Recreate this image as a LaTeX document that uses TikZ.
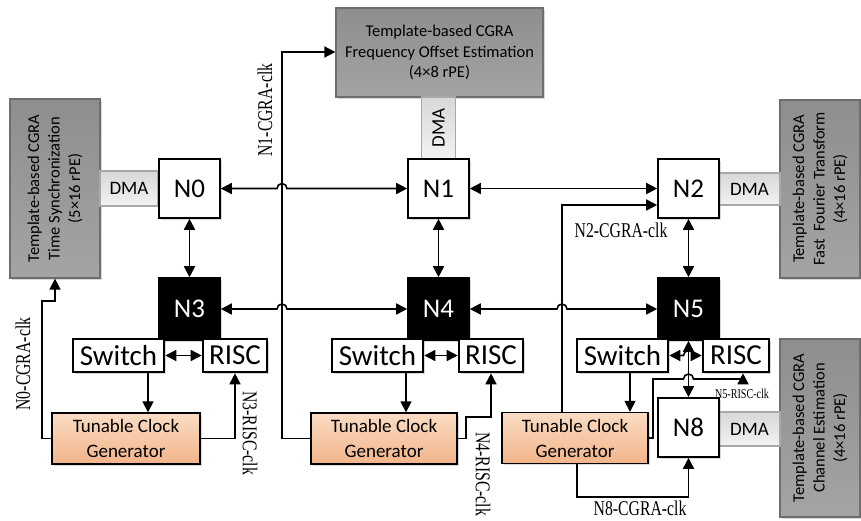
\documentclass[tikz,border=0pt]{standalone}
\usepackage{fontspec}
\usepackage{graphicx}
\setmainfont{Carlito}
\newfontfamily\clkfont{Liberation Serif}
\usetikzlibrary{positioning,arrows.meta,shadows,calc}
\definecolor{cgragreytop}{HTML}{8E8E8E}
\definecolor{cgragreybot}{HTML}{A4A4A4}
\definecolor{cgraedge}{HTML}{6E6E6E}
\definecolor{dmatop}{HTML}{D8D8D8}
\definecolor{dmabot}{HTML}{F2F2F2}
\definecolor{dmaedge}{HTML}{A8A8A8}
\definecolor{tcgtop}{HTML}{FADCC3}
\definecolor{tcgbot}{HTML}{F2B48A}
% condensed serif for the clock signal names
\newcommand{\clkname}[1]{\scalebox{0.75}[1]{#1}}

\begin{document}
\begin{tikzpicture}[x=1pt,y=1pt,
  shd/.style={drop shadow={shadow xshift=1.5pt,shadow yshift=-1.5pt,opacity=0.3}},
  cgra/.style={draw=cgraedge,line width=1.2pt,top color=cgragreytop,bottom color=cgragreybot,inner sep=0pt,shd},
  cgratxt/.style={font=\fontsize{16.5}{20.5}\selectfont,align=center,inner sep=0pt},
  dma/.style={draw=dmaedge,line width=1.2pt,top color=dmatop,bottom color=dmabot,inner sep=0pt},
  dmatxt/.style={font=\fontsize{19}{20}\selectfont,inner sep=0pt},
  noc/.style={draw,line width=1.6pt,fill=white,inner sep=0pt,minimum width=61pt,minimum height=59pt,font=\fontsize{27}{30}\selectfont,shd},
  hub/.style={noc,fill=black,text=white,minimum height=62pt},
  unit/.style={draw,line width=2.6pt,fill=white,inner sep=0pt,minimum height=33pt,font=\fontsize{29}{30}\selectfont,shd},
  tcg/.style={draw,line width=1.4pt,top color=tcgtop,bottom color=tcgbot,align=center,inner sep=0pt,minimum width=146pt,minimum height=51pt,font=\fontsize{19}{25}\selectfont,shd},
  clk/.style={font=\clkfont\fontsize{21}{22}\selectfont,inner sep=0pt},
  clksmall/.style={font=\clkfont\fontsize{13.5}{14}\selectfont,inner sep=0pt},
  wire/.style={line width=1.6pt},
  sgl/.style={wire,-{Triangle[length=11pt,width=11pt]}},
  dbl/.style={wire,{Triangle[length=11pt,width=11pt]}-{Triangle[length=11pt,width=11pt]}}]
\useasboundingbox (0,0) rectangle (861,-520);

% CGRA accelerators
\node[cgra,minimum width=90pt,minimum height=179pt] (tsync) at (55,-188.5) {};
\node[cgratxt,rotate=90] (tsynctxt) at (tsync) {Template-based CGRA\\Time Synchronization\\(5×16 rPE)};
\node[cgra,minimum width=207pt,minimum height=89pt] (foe) at (439.5,-52.5) {};
\node[cgratxt] (foetxt) at (foe) {Template-based CGRA\\Frequency Offset Estimation\\(4×8 rPE)};
\node[cgra,minimum width=80pt,minimum height=178pt] (fft) at (820,-189) {};
\node[cgratxt,rotate=90] (ffttxt) at (fft) {Template-based CGRA\\Fast\ \ Fourier Transform\\(4×16 rPE)};
\node[cgra,minimum width=80pt,minimum height=178pt] (chest) at (820,-428) {};
\node[cgratxt,rotate=90] (chesttxt) at (chest) {Template-based CGRA\\Channel Estimation\\(4×16 rPE)};

% DMA bridges
\node[dma,minimum width=58pt,minimum height=35pt] (dma0) at (129,-188.5) {};
\node[dmatxt] (dma0txt) at (dma0) {DMA};
\node[dma,minimum width=34pt,minimum height=62pt] (dma1) at (438.5,-128) {};
\node[dmatxt,rotate=90] (dma1txt) at (dma1) {DMA};
\node[dma,minimum width=61pt,minimum height=32pt] (dma2) at (749.5,-189) {};
\node[dmatxt] (dma2txt) at (dma2) {DMA};
\node[dma,minimum width=61pt,minimum height=34pt] (dma8) at (749.5,-429) {};
\node[dmatxt] (dma8txt) at (dma8) {DMA};

% NoC routers
\node[noc] (n0) at (189.5,-188.5) {N0};
\node[noc] (n1) at (438.5,-188.5) {N1};
\node[noc] (n2) at (688.5,-188.5) {N2};
\node[hub] (n3) at (189.5,-309) {N3};
\node[hub] (n4) at (438.5,-309) {N4};
\node[hub] (n5) at (688.5,-309) {N5};
\node[noc] (n8) at (688.5,-427.5) {N8};

% switch / RISC pairs
\node[unit,minimum width=91pt] (sw3) at (118.5,-355.5) {Switch};
\node[unit,minimum width=64pt] (risc3) at (235,-355.5) {RISC};
\node[unit,minimum width=91pt] (sw4) at (377.5,-355.5) {Switch};
\node[unit,minimum width=64pt] (risc4) at (491,-355.5) {RISC};
\node[unit,minimum width=91pt] (sw5) at (622.5,-355.5) {Switch};
\node[unit,minimum width=66pt] (risc5) at (736,-355.5) {RISC};

% clock generators
\node[tcg,minimum width=148pt] (tcg3) at (126,-438.5) {Tunable Clock\\Generator};
\node[tcg] (tcg4) at (384,-438.5) {Tunable Clock\\Generator};
\node[tcg] (tcg5) at (575,-438) {Tunable Clock\\Generator};

% bends of the clock lines
\coordinate (c0) at (42,-301);
\coordinate (c1) at (282,-52);
\coordinate (c2) at (562,-205);
\coordinate (c4) at (466,-417);
\coordinate (c5a) at (653,-379);
\coordinate (c5b) at (743,-379);
\coordinate (c8) at (577,-497);

% mesh links
\draw[dbl] (n0.east) -- ([xshift=-5pt]n0.east -| c1) arc[start angle=180,end angle=0,radius=5pt] -- (n1.west);
\draw[dbl] (n1.east) -- (n2.west);
\draw[dbl] (n3.east) -- ([xshift=-5pt]n3.east -| c1) arc[start angle=180,end angle=0,radius=5pt] -- (n4.west);
\draw[dbl] (n4.east) -- ([xshift=-5pt]n4.east -| c2) arc[start angle=180,end angle=0,radius=5pt] -- (n5.west);
\draw[dbl] (n0.south) -- (n3.north);
\draw[dbl] (n1.south) -- (n4.north);
\draw[dbl] (n2.south) -- (n5.north);
\draw[dbl] (n5.south) -- (n8.north);

% switch <-> RISC, switch -> clock generator
\draw[dbl] (sw3.east) -- (risc3.west);
\draw[dbl] (sw4.east) -- (risc4.west);
\draw[dbl] (sw5.east) -- ([xshift=-5pt]sw5.east -| n5.south) arc[start angle=180,end angle=0,radius=5pt] -- (risc5.west);
\draw[sgl] ([xshift=29.5pt]sw3.south) -- ([xshift=29.5pt]sw3.south |- tcg3.north);
\draw[sgl] ([xshift=28.5pt]sw4.south) -- ([xshift=28.5pt]sw4.south |- tcg4.north);
\draw[sgl] ([xshift=7.5pt]sw5.south) -- ([xshift=7.5pt]sw5.south |- tcg5.north);

% clock lines
\draw[sgl] (tcg3.west) -| (c0) -| (tsync.south);
\draw[sgl] (tcg3.east) -| (risc3.south);
\draw[sgl] (tcg4.west) -| (c1) -- (c1 -| foe.west);
\draw[sgl] (tcg4.east) -| (c4) -| (risc4.south);
\draw[sgl] ([xshift=-13pt]tcg5.north) -- (c2) -- (c2 -| n2.west);
\draw[sgl] (tcg5.east) -| (c5a) -- ([xshift=-5pt]c5a -| n5.south) arc[start angle=180,end angle=0,radius=5pt] -- (c5b) -- (c5b |- risc5.south);
\draw[sgl] ([xshift=2pt]tcg5.south) -- (c8) -| (n8.south);

% clock names
\node[clk,rotate=90] (l0) at (23,-364) {\clkname{N0-CGRA-clk}};
\node[clk,rotate=90] (l1) at (265,-110) {\clkname{N1-CGRA-clk}};
\node[clk] (l2) at (621,-230) {\clkname{N2-CGRA-clk}};
\node[clk,rotate=-90] (l3) at (250,-433) {\clkname{N3-RISC-clk}};
\node[clk,rotate=-90] (l4) at (483,-474) {\clkname{N4-RISC-clk}};
\node[clksmall] (l5) at (742,-394) {\clkname{N5-RISC-clk}};
\node[clk] (l8) at (640,-508) {\clkname{N8-CGRA-clk}};
\end{tikzpicture}
\end{document}
